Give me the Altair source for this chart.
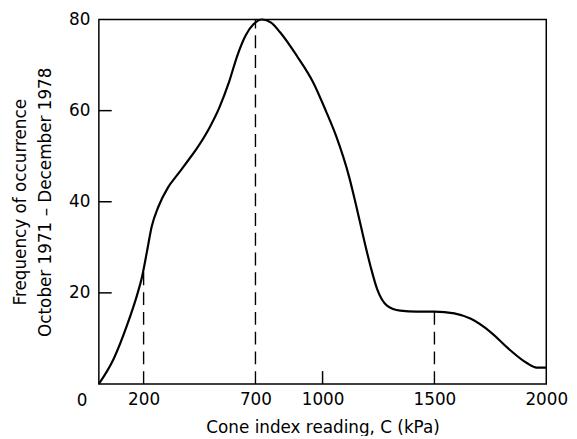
import altair as alt
import pandas as pd

# Curve (cone index C in kPa, frequency)
cone = [0, 67, 126, 170, 192, 214, 236, 266, 310, 354, 398, 435, 494, 538, 582,
        619, 656, 692, 729, 770, 810, 884, 957, 1016, 1060, 1119, 1148, 1185,
        1214, 1244, 1288, 1347, 1420, 1500, 1589, 1663, 1751, 1839, 1913, 1957,
        2000]
freq = [0, 5.6, 12.9, 19.4, 23.3, 28.8, 34.5, 38.9, 43.2, 46.1, 49.0, 51.5, 56.2,
        60.6, 66.3, 72.1, 76.5, 79.0, 80, 79.3, 77.2, 72.1, 66.3, 59.8, 54.5,
        45.4, 39.6, 31.7, 25.9, 20.8, 17.2, 16.1, 15.9, 15.9, 15.5, 14.3, 11.4,
        7.4, 4.6, 3.6, 3.6]

# dashed reference lines
marker_c = [200, 700, 1500]
marker_v = [25.3, 80, 15.9]

# axis labels / inward ticks
x_labels = [200, 700, 1000, 1500, 2000]
y_labels = [20, 40, 60, 80]
y_ticks = [20, 40, 60]
x_ticks = [1000]

W, H = 453, 369
FONT = "DejaVu Sans"

curve_df = pd.DataFrame({"c": cone, "v": freq})
mark_df = pd.DataFrame({"c": marker_c, "v": marker_v, "z": [0] * len(marker_c)})
ytick_df = pd.DataFrame({"v": y_ticks})
xtick_df = pd.DataFrame({"c": x_ticks})
zero_df = pd.DataFrame({"c": [0], "v": [0], "t": ["0"]})

xscale = alt.Scale(domain=[0, 2000], nice=False, zero=False)
yscale = alt.Scale(domain=[0, 80], nice=False)

xaxis = alt.Axis(values=x_labels, title="Cone index reading, C (kPa)", format="d",
                 domain=False, ticks=False, grid=False, labelPadding=8,
                 titlePadding=12, labelFlush=False)
yaxis = alt.Axis(values=y_labels, format="d",
                 title=["Frequency of occurrence", "October 1971 – December 1978"],
                 domain=False, ticks=False, grid=False, labelPadding=9,
                 titleX=-70, titleBaseline="bottom", titleLineHeight=25)

curve = alt.Chart(curve_df).mark_line(
    interpolate="monotone", color="black", strokeWidth=2.2
).encode(
    x=alt.X("c:Q", scale=xscale, axis=xaxis),
    y=alt.Y("v:Q", scale=yscale, axis=yaxis),
)

dashes = alt.Chart(mark_df).mark_rule(
    color="black", strokeWidth=1.4, strokeDash=[13, 7]
).encode(
    x=alt.X("c:Q", scale=xscale),
    y=alt.Y("z:Q", scale=yscale),
    y2="v:Q",
)

yt = alt.Chart(ytick_df).mark_rule(color="black", strokeWidth=1.5).encode(
    y=alt.Y("v:Q", scale=yscale),
    x=alt.value(0),
    x2=alt.value(13),
)

xt = alt.Chart(xtick_df).mark_rule(color="black", strokeWidth=1.5).encode(
    x=alt.X("c:Q", scale=xscale),
    y=alt.value(H),
    y2=alt.value(H - 13),
)

zero = alt.Chart(zero_df).mark_text(
    dx=-17, dy=17, fontSize=17, font=FONT, color="black"
).encode(
    x=alt.X("c:Q", scale=xscale),
    y=alt.Y("v:Q", scale=yscale),
    text="t:N",
)

chart = alt.layer(curve, dashes, yt, xt, zero).properties(
    width=W, height=H,
    autosize=alt.AutoSizeParams(type="none"),
    padding={"left": 92, "top": 9, "right": 23, "bottom": 50},
).configure_view(
    stroke="black", strokeWidth=1.5
).configure_axis(
    labelFont=FONT, labelFontSize=17, labelColor="black",
    titleFont=FONT, titleFontSize=17, titleFontWeight="normal", titleColor="black",
)

chart.save("out.html", embed_options={"renderer": "svg", "actions": False})
